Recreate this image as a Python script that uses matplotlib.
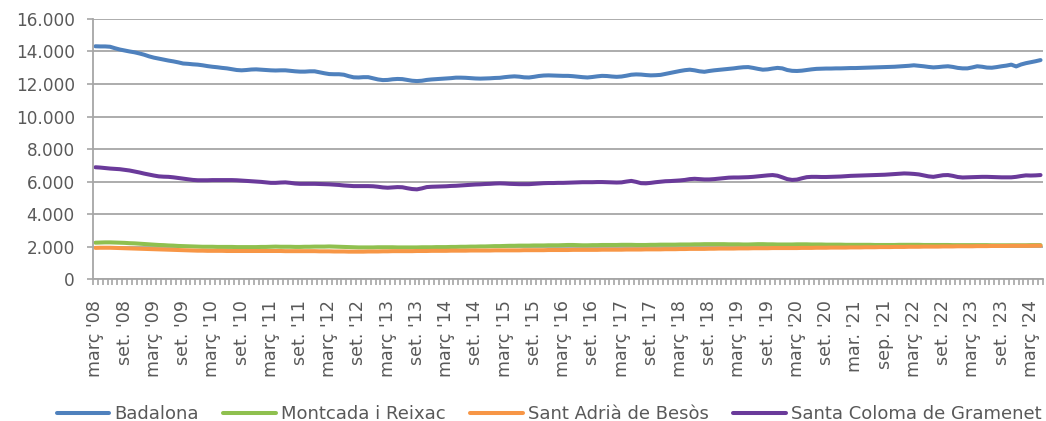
import numpy as np
from matplotlib import pyplot as plt
import matplotlib.ticker as mtick

# Monthly series, March 2008 to May 2024 (one row per year, Mar..Feb, plus Mar-May '24)
badalona = [
    14320, 14310, 14310, 14290, 14200, 14120, 14060, 14000, 13950, 13880, 13800, 13700,
    13620, 13560, 13500, 13440, 13390, 13330, 13260, 13240, 13210, 13190, 13150, 13100,
    13060, 13030, 12990, 12960, 12910, 12860, 12840, 12860, 12890, 12900, 12880, 12860,
    12840, 12830, 12840, 12840, 12810, 12780, 12760, 12760, 12780, 12780, 12720, 12660,
    12610, 12600, 12600, 12570, 12480, 12410, 12400, 12420, 12420, 12350, 12280, 12240,
    12250, 12290, 12310, 12300, 12250, 12200, 12180, 12200, 12250, 12280, 12300, 12320,
    12340, 12360, 12390, 12390, 12380, 12360, 12340, 12330, 12340, 12350, 12370, 12380,
    12420, 12450, 12470, 12450, 12410, 12400, 12440, 12490, 12520, 12530, 12520, 12510,
    12500, 12500, 12480, 12450, 12420, 12400, 12430, 12470, 12500, 12490, 12460, 12440,
    12460, 12510, 12570, 12590, 12580, 12550, 12530, 12540, 12560, 12620, 12680, 12740,
    12800, 12850, 12880, 12840, 12780, 12750, 12800, 12840, 12870, 12900, 12930, 12960,
    13000, 13030, 13040, 12990, 12930, 12880, 12900, 12950, 12990, 12960, 12860, 12810,
    12800, 12820, 12860, 12900, 12930, 12940, 12950, 12950, 12960, 12960, 12970, 12980,
    12980, 12990, 13000, 13010, 13020, 13030, 13040, 13050, 13060, 13080, 13100, 13120,
    13150, 13120, 13090, 13050, 13020, 13040, 13070, 13090, 13050, 12990, 12960, 12960,
    13020, 13090, 13060, 13010, 13000, 13040, 13090, 13130, 13190, 13080, 13200, 13280,
    13340, 13400, 13470,
]

montcada = [
    2240, 2250, 2260, 2260, 2250, 2240, 2230, 2210, 2200, 2180, 2160, 2140,
    2120, 2100, 2090, 2070, 2060, 2040, 2030, 2020, 2010, 2000, 1990, 1990,
    1990, 1980, 1980, 1980, 1980, 1970, 1970, 1970, 1970, 1970, 1980, 1980,
    1990, 2000, 1990, 1990, 1990, 1980, 1980, 1990, 1990, 2000, 2000, 2000,
    2010, 2000, 1990, 1980, 1970, 1960, 1950, 1950, 1950, 1950, 1960, 1960,
    1960, 1960, 1950, 1950, 1950, 1950, 1950, 1960, 1960, 1960, 1970, 1970,
    1970, 1980, 1980, 1990, 1990, 2000, 2000, 2010, 2010, 2020, 2030, 2030,
    2040, 2050, 2050, 2060, 2060, 2060, 2070, 2070, 2070, 2080, 2080, 2080,
    2090, 2100, 2100, 2090, 2080, 2080, 2090, 2090, 2100, 2100, 2100, 2100,
    2110, 2110, 2110, 2100, 2100, 2100, 2110, 2110, 2120, 2120, 2120, 2120,
    2130, 2130, 2130, 2140, 2140, 2150, 2150, 2150, 2150, 2150, 2140, 2140,
    2140, 2130, 2130, 2140, 2150, 2150, 2140, 2140, 2130, 2130, 2130, 2130,
    2140, 2140, 2140, 2130, 2130, 2130, 2120, 2120, 2120, 2120, 2110, 2110,
    2110, 2110, 2110, 2110, 2100, 2100, 2100, 2100, 2100, 2110, 2110, 2110,
    2110, 2110, 2100, 2100, 2100, 2100, 2100, 2100, 2090, 2090, 2090, 2090,
    2090, 2090, 2090, 2090, 2080, 2080, 2080, 2080, 2080, 2080, 2080, 2080,
    2090, 2090, 2090,
]

sant_adria = [
    1920, 1930, 1930, 1930, 1920, 1910, 1900, 1890, 1880, 1870, 1860, 1850,
    1840, 1830, 1820, 1810, 1800, 1790, 1780, 1770, 1760, 1750, 1750, 1740,
    1740, 1740, 1740, 1730, 1730, 1730, 1730, 1730, 1730, 1730, 1730, 1730,
    1730, 1730, 1730, 1720, 1720, 1720, 1720, 1720, 1720, 1720, 1710, 1710,
    1710, 1700, 1700, 1700, 1690, 1690, 1690, 1690, 1700, 1700, 1700, 1710,
    1710, 1720, 1720, 1720, 1720, 1720, 1730, 1730, 1730, 1740, 1740, 1740,
    1740, 1750, 1750, 1750, 1750, 1760, 1760, 1760, 1760, 1760, 1770, 1770,
    1770, 1770, 1770, 1770, 1780, 1780, 1780, 1780, 1780, 1790, 1790, 1790,
    1790, 1790, 1800, 1800, 1800, 1800, 1800, 1800, 1810, 1810, 1810, 1810,
    1810, 1820, 1820, 1820, 1820, 1830, 1830, 1830, 1830, 1840, 1840, 1840,
    1850, 1850, 1860, 1860, 1860, 1860, 1870, 1870, 1880, 1880, 1880, 1880,
    1890, 1890, 1890, 1900, 1900, 1900, 1900, 1910, 1910, 1910, 1910, 1910,
    1910, 1920, 1920, 1920, 1930, 1930, 1930, 1940, 1940, 1940, 1940, 1950,
    1950, 1950, 1960, 1960, 1960, 1970, 1970, 1970, 1980, 1980, 1980, 1990,
    1990, 1990, 2000, 2000, 2000, 2000, 2010, 2010, 2010, 2020, 2020, 2020,
    2020, 2030, 2030, 2030, 2040, 2040, 2040, 2040, 2050, 2050, 2050, 2050,
    2050, 2060, 2060,
]

santa_coloma = [
    6880, 6860, 6830, 6800, 6780, 6760, 6720, 6680, 6620, 6560, 6490, 6430,
    6370, 6320, 6300, 6290, 6260, 6220, 6180, 6140, 6100, 6080, 6080, 6080,
    6090, 6090, 6090, 6090, 6090, 6080, 6060, 6040, 6020, 6000, 5980, 5950,
    5920, 5920, 5940, 5950, 5920, 5880, 5860, 5860, 5860, 5860, 5850, 5840,
    5830, 5810, 5790, 5760, 5740, 5720, 5720, 5720, 5720, 5710, 5680, 5640,
    5620, 5640, 5660, 5650, 5590, 5540, 5520, 5580, 5660, 5680, 5690, 5700,
    5710, 5730, 5740, 5760, 5780, 5800, 5820, 5830, 5850, 5860, 5880, 5890,
    5880, 5860, 5850, 5840, 5840, 5840, 5860, 5880, 5900, 5910, 5910, 5920,
    5920, 5930, 5940, 5950, 5960, 5960, 5960, 5970, 5970, 5960, 5950, 5940,
    5950, 6000, 6040, 5980, 5900, 5890, 5920, 5960, 5990, 6020, 6030, 6050,
    6070, 6100, 6150, 6170, 6150, 6130, 6130, 6150, 6180, 6210, 6240, 6250,
    6250, 6260, 6270, 6290, 6320, 6350, 6380, 6400, 6360, 6260, 6150, 6100,
    6120, 6200, 6270, 6290, 6290, 6280, 6280, 6290, 6300, 6310, 6330, 6350,
    6360, 6370, 6380, 6390, 6400, 6410, 6420, 6440, 6460, 6480, 6500, 6490,
    6470, 6440, 6380, 6320, 6290, 6340, 6390, 6400, 6350, 6280, 6250, 6260,
    6270, 6280, 6290, 6290, 6280, 6270, 6260, 6260, 6260, 6290, 6340, 6380,
    6370, 6380, 6400,
]

# Axis labels, one every six months
tick_labels = [
    "març '08", "set. '08", "març '09", "set. '09", "març '10", "set. '10",
    "març '11", "set. '11", "març '12", "set. '12", "març '13", "set. '13",
    "març '14", "set. '14", "març '15", "set. '15", "març '16", "set. '16",
    "març '17", "set. '17", "març '18", "set. '18", "març '19", "set. '19",
    "març '20", "set. '20", "mar. '21", "sep. '21", "març '22", "set. '22",
    "març '23", "set. '23", "març '24",
]

series_names = ['Badalona', 'Montcada i Reixac', 'Sant Adrià de Besòs', 'Santa Coloma de Gramenet']
series_colors = ['#4f81bd', '#8fc04f', '#f79646', '#6a3a9a']

text_color = '#595959'
grid_color = '#a6a6a6'

fig = plt.figure(figsize=(10.46, 4.21), dpi=100)
ax = fig.add_axes([0.0889, 0.337, 0.9082, 0.618])

x = np.arange(len(badalona))
for values, name, color in zip([badalona, montcada, sant_adria, santa_coloma], series_names, series_colors):
    ax.plot(x, values, color=color, linewidth=2.9, label=name, solid_capstyle='round')

ax.set_xlim(-0.5, len(badalona) - 0.5)
ax.set_ylim(0, 16000)
ax.set_yticks(np.arange(0, 16001, 2000))
ax.yaxis.set_major_formatter(mtick.FuncFormatter(lambda v, pos: f'{int(v):,}'.replace(',', '.')))

# Labels every 6 months, small tick marks between every month
ax.set_xticks(np.arange(0, len(tick_labels) * 6, 6))
ax.set_xticklabels(tick_labels, rotation=90)
ax.set_xticks(np.arange(-0.5, len(badalona), 1), minor=True)
ax.tick_params(axis='x', which='major', length=0, pad=15, labelsize=12.6, labelcolor=text_color)
ax.tick_params(axis='x', which='minor', length=4, width=1.2, color=grid_color)
ax.tick_params(axis='y', length=4, width=1.2, color=grid_color, labelsize=12.2, labelcolor=text_color, pad=9)

ax.grid(axis='y', color=grid_color, linewidth=1.3)
ax.set_axisbelow(True)
for side in ['top', 'right']:
    ax.spines[side].set_visible(False)
for side in ['left', 'bottom']:
    ax.spines[side].set_color(grid_color)
    ax.spines[side].set_linewidth(1.3)

fig.legend(loc='lower center', bbox_to_anchor=(0.525, -0.022), ncol=4, frameon=False,
           fontsize=13, labelcolor=text_color, handlelength=2.9, handletextpad=0.3,
           columnspacing=1.35, borderaxespad=0)

plt.savefig('out.png', dpi=100)
